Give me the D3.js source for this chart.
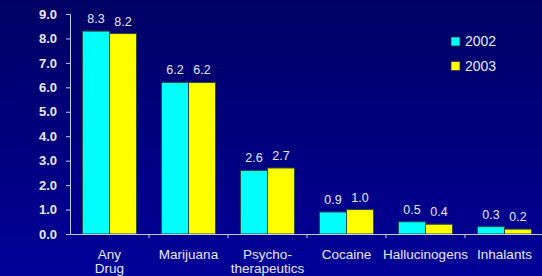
<!DOCTYPE html>
<html lang="en">
<head>
<meta charset="utf-8">
<title>Drug use 2002 vs 2003</title>
<script src="https://cdn.jsdelivr.net/npm/d3@7"></script>
<style>
  html, body { margin: 0; padding: 0; background: #000080; }
  svg { display: block; font-family: "Liberation Sans", Arial, sans-serif; }
</style>
</head>
<body>
<div id="chart"></div>
<script>
// data
var categories = ["Any Drug", "Marijuana", "Psycho-therapeutics", "Cocaine", "Hallucinogens", "Inhalants"];
var catLines = [["Any", "Drug"], ["Marijuana"], ["Psycho-", "therapeutics"], ["Cocaine"], ["Hallucinogens"], ["Inhalants"]];
var years = ["2002", "2003"];
var values2002 = [8.3, 6.2, 2.6, 0.9, 0.5, 0.3];
var values2003 = [8.2, 6.2, 2.7, 1.0, 0.4, 0.2];
var yTicks = [0, 1, 2, 3, 4, 5, 6, 7, 8, 9];
var colors = ["#00FFFF", "#FFFF00"];

var w = 542, h = 276;
var margin = {left: 70, right: -2, top: 14, bottom: 42};

var svg = d3.select("#chart").append("svg")
  .attr("width", w).attr("height", h);

// background gradient
var grad = svg.append("defs").append("linearGradient")
  .attr("id", "bg").attr("x1", 0).attr("y1", 0).attr("x2", 0).attr("y2", 1);
grad.append("stop").attr("offset", "0%").attr("stop-color", "#000064");
grad.append("stop").attr("offset", "100%").attr("stop-color", "#000098");
svg.append("rect").attr("width", w).attr("height", h).attr("fill", "url(#bg)");

var x = d3.scaleBand()
  .domain(categories)
  .range([margin.left, w - margin.right]);
var x1 = d3.scaleBand()
  .domain(years)
  .range([0, x.bandwidth()])
  .paddingOuter(0.46)
  .paddingInner(0);
var y = d3.scaleLinear()
  .domain([0, 9])
  .range([h - margin.bottom, margin.top]);

var axisColor = "#C8C8E8";
var textColor = "#E8E8F4";

// y axis
var yAxis = svg.append("g")
  .attr("transform", "translate(" + margin.left + ",0)")
  .call(d3.axisLeft(y).tickValues(yTicks).tickSize(4).tickFormat(d3.format(".1f")));
yAxis.select(".domain").attr("stroke", axisColor);
yAxis.selectAll(".tick line").attr("stroke", axisColor);
yAxis.selectAll(".tick text")
  .attr("fill", textColor)
  .attr("font-size", "13px")
  .attr("font-weight", "bold")
  .attr("x", -13);

// bars
var rows = categories.map(function(c, i) {
  return {cat: c, vals: [values2002[i], values2003[i]]};
});
var groups = svg.selectAll("g.grp")
  .data(rows)
  .enter().append("g")
  .attr("class", "grp")
  .attr("transform", function(d) { return "translate(" + x(d.cat) + ",0)"; });

groups.selectAll("rect")
  .data(function(d) { return d.vals.map(function(v, j) { return {year: years[j], v: v, j: j}; }); })
  .enter().append("rect")
  .attr("x", function(d) { return x1(d.year); })
  .attr("y", function(d) { return y(d.v); })
  .attr("width", x1.bandwidth())
  .attr("height", function(d) { return y(0) - y(d.v); })
  .attr("fill", function(d) { return colors[d.j]; })
  .attr("stroke", "#2a4a40")
  .attr("stroke-width", 1);

groups.selectAll("text.val")
  .data(function(d) { return d.vals.map(function(v, j) { return {year: years[j], v: v}; }); })
  .enter().append("text")
  .attr("class", "val")
  .attr("x", function(d) { return x1(d.year) + x1.bandwidth() / 2; })
  .attr("y", function(d) { return y(d.v) - 8; })
  .attr("text-anchor", "middle")
  .attr("font-size", "12.5px")
  .attr("fill", textColor)
  .text(function(d) { return d.v.toFixed(1); });

// x axis
var xAxis = svg.append("g")
  .attr("transform", "translate(0," + y(0) + ")")
  .call(d3.axisBottom(x).tickSize(0).tickFormat(""));
xAxis.select(".domain").attr("stroke", axisColor);
xAxis.selectAll(".tick").remove();

// separator ticks between categories
svg.selectAll("line.sep")
  .data(categories.slice(1))
  .enter().append("line")
  .attr("x1", function(d) { return x(d); })
  .attr("x2", function(d) { return x(d); })
  .attr("y1", y(0))
  .attr("y2", y(0) + 4)
  .attr("stroke", axisColor);

// category labels, one text per line
var labelData = [];
categories.forEach(function(c, i) {
  catLines[i].forEach(function(line, k) {
    labelData.push({cat: c, line: line, k: k});
  });
});
svg.selectAll("text.cat")
  .data(labelData)
  .enter().append("text")
  .attr("class", "cat")
  .attr("text-anchor", "middle")
  .attr("font-size", "13.5px")
  .attr("fill", textColor)
  .attr("x", function(d) { return x(d.cat) + x.bandwidth() / 2; })
  .attr("y", function(d) { return y(0) + 25 + d.k * 14; })
  .text(function(d) { return d.line; });

// legend
var legend = svg.selectAll("g.leg")
  .data(years)
  .enter().append("g")
  .attr("class", "leg")
  .attr("transform", function(d, i) { return "translate(451," + (37 + i * 24.5) + ")"; });
legend.append("rect")
  .attr("width", 9).attr("height", 9)
  .attr("fill", function(d, i) { return colors[i]; })
  .attr("stroke", "#333")
  .attr("stroke-width", 0.8);
legend.append("text")
  .attr("x", 14).attr("y", 9)
  .attr("font-size", "14px")
  .attr("fill", textColor)
  .text(function(d) { return d; });
</script>
</body>
</html>
